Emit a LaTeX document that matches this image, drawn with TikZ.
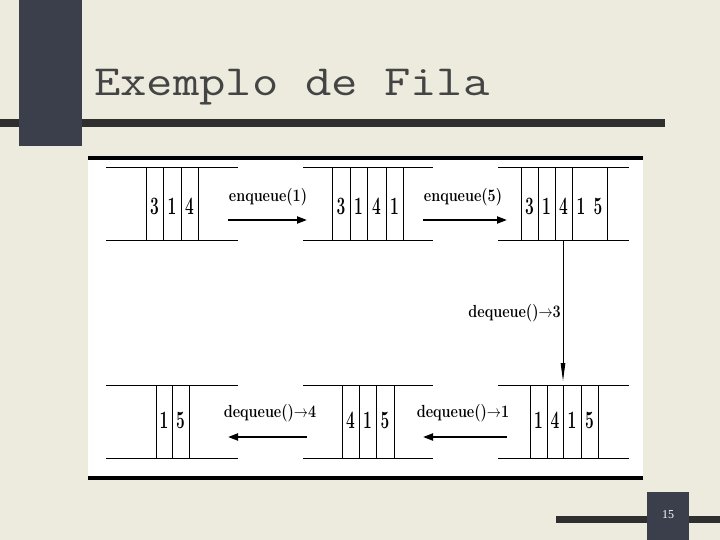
\documentclass[tikz,border=0pt]{standalone}
\usepackage{fontspec}
\usetikzlibrary{arrows.meta}
\newfontfamily\numfont{Liberation Serif}
\definecolor{bgbeige}{HTML}{ECEBDD}
\definecolor{sidedark}{HTML}{3B3E4B}
\definecolor{bardark}{HTML}{2F2F2F}
\definecolor{titlegray}{HTML}{444444}
\tikzset{
  qline/.style={line width=0.9pt, black},
  digit/.style={inner sep=0pt, font=\bfseries\fontsize{25}{25}\selectfont},
  oplabel/.style={inner sep=0pt, font=\bfseries\fontsize{17.5}{17.5}\selectfont},
  oparrow/.style={line width=2pt, -{Triangle[length=10pt,width=7pt]}},
  varrow/.style={line width=0.9pt, -{Triangle[length=18pt,width=4.5pt]}}
}
\newcommand{\dg}[1]{\scalebox{0.62}[1]{#1}}
\newcommand{\lb}[1]{\scalebox{0.82}[1]{#1}}
\begin{document}
\begin{tikzpicture}[x=1pt,y=-1pt]
\useasboundingbox (0,0) rectangle (720,540);
% background
\fill[bgbeige] (0,0) rectangle (720,540);
% sidebar and title bar
\fill[bardark] (0,119) rectangle (665,127);
\fill[sidedark] (19,0) rectangle (82,146);
\node[anchor=base west, inner sep=0pt, text=titlegray,
      font=\ttfamily\fontsize{43}{43}\selectfont] (title) at (94,96)
      {\scalebox{1.19}[1]{Exemplo de Fila}};
% white panel
\fill[white] (88,157) rectangle (643,480);
\fill[black] (88,156) rectangle (643,160);
\fill[black] (88,476) rectangle (643,480);
% page number
\fill[bardark] (556,516) rectangle (720,523);
\fill[sidedark] (647,492) rectangle (689,540);
\node[text=white, inner sep=0pt, font=\numfont\fontsize{12}{12}\selectfont] (pnum) at (668,515) {15};

% ---------- Row 1 ----------
% Queue 1
\draw[qline] (106,167) -- (238,167) (106,240) -- (238,240);
\foreach \x in {146,163,181,198} \draw[qline] (\x,167) -- (\x,240);
\node[digit] (q1a) at (154.5,206) {\dg{3}};
\node[digit] (q1b) at (172,206) {\dg{1}};
\node[digit] (q1c) at (189.5,206) {\dg{4}};
% Queue 2
\draw[qline] (303,167) -- (433,167) (303,240) -- (433,240);
\foreach \x in {332,350,367,386,403} \draw[qline] (\x,167) -- (\x,240);
\node[digit] (q2a) at (341,206) {\dg{3}};
\node[digit] (q2b) at (358.5,206) {\dg{1}};
\node[digit] (q2c) at (376.5,206) {\dg{4}};
\node[digit] (q2d) at (394.5,206) {\dg{1}};
% Queue 3
\draw[qline] (498,167) -- (629,167) (498,240) -- (629,240);
\foreach \x in {521,538,555,572,607} \draw[qline] (\x,167) -- (\x,240);
\node[digit] (q3a) at (529.5,206) {\dg{3}};
\node[digit] (q3b) at (546.5,206) {\dg{1}};
\node[digit] (q3c) at (563.5,206) {\dg{4}};
\node[digit] (q3d) at (581,206) {\dg{1}};
\node[digit] (q3e) at (598,206) {\dg{5}};

% arrows row 1
\coordinate (a1s) at (228,220); \coordinate (a1e) at (307,220);
\draw[oparrow] (a1s) -- (a1e);
\node[oplabel] (l1) at (268,197) {\lb{enqueue(1)}};
\coordinate (a2s) at (423,220); \coordinate (a2e) at (507,220);
\draw[oparrow] (a2s) -- (a2e);
\node[oplabel] (l2) at (463,197) {\lb{enqueue(5)}};

% vertical arrow
\coordinate (vs) at (563,240); \coordinate (ve) at (563,381);
\draw[varrow] (vs) -- (ve);
\node[oplabel, anchor=east] (l3) at (561,313) {\lb{dequeue()$\rightarrow$3}};

% ---------- Row 2 ----------
% Queue 4 (left)
\draw[qline] (106,385) -- (238,385) (106,458) -- (238,458);
\foreach \x in {156,172,189} \draw[qline] (\x,385) -- (\x,458);
\node[digit] (q4a) at (164,420) {\dg{1}};
\node[digit] (q4b) at (180.5,420) {\dg{5}};
% Queue 5 (middle)
\draw[qline] (303,385) -- (433,385) (303,458) -- (433,458);
\foreach \x in {342,359,376,394} \draw[qline] (\x,385) -- (\x,458);
\node[digit] (q5a) at (350.5,420) {\dg{4}};
\node[digit] (q5b) at (367.5,420) {\dg{1}};
\node[digit] (q5c) at (385,420) {\dg{5}};
% Queue 6 (right)
\draw[qline] (498,385) -- (629,385) (498,458) -- (629,458);
\foreach \x in {530,547,563,581,598} \draw[qline] (\x,385) -- (\x,458);
\node[digit] (q6a) at (538.5,420) {\dg{1}};
\node[digit] (q6b) at (555,420) {\dg{4}};
\node[digit] (q6c) at (572,420) {\dg{1}};
\node[digit] (q6d) at (589.5,420) {\dg{5}};

% arrows row 2
\coordinate (a3s) at (507,437); \coordinate (a3e) at (423,437);
\draw[oparrow] (a3s) -- (a3e);
\node[oplabel] (l4) at (463,413) {\lb{dequeue()$\rightarrow$1}};
\coordinate (a4s) at (307,437); \coordinate (a4e) at (228,437);
\draw[oparrow] (a4s) -- (a4e);
\node[oplabel] (l5) at (270,413) {\lb{dequeue()$\rightarrow$4}};
\end{tikzpicture}
\end{document}
